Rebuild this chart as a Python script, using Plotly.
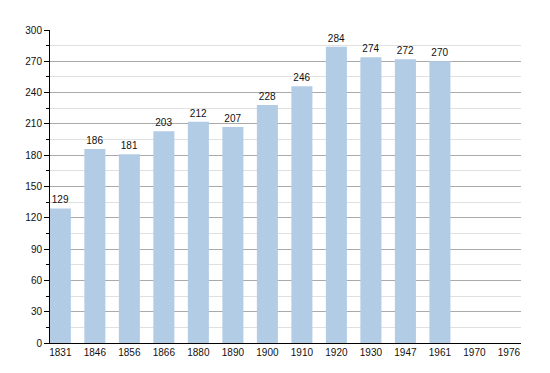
import plotly.graph_objects as go

years = ["1831", "1846", "1856", "1866", "1880", "1890", "1900", "1910", "1920", "1930", "1947", "1961", "1970", "1976"]
population = [129, 186, 181, 203, 212, 207, 228, 246, 284, 274, 272, 270, None, None]
bar_labels = [str(v) if v is not None else "" for v in population]
y_ticks = list(range(0, 301, 30))

fig = go.Figure()
fig.add_trace(go.Bar(
    x=years, y=population, text=bar_labels, textposition="outside",
    textfont=dict(family="Liberation Sans, Arial", size=10, color="#111"),
    marker=dict(color="#b3cce6", line=dict(width=0)),
    width=0.61, cliponaxis=False,
))
fig.update_layout(
    width=550, height=373,
    margin=dict(l=42, r=37, t=22, b=38),
    plot_bgcolor="white", paper_bgcolor="white",
    showlegend=False,
    font=dict(family="Liberation Sans, Arial", size=10, color="#111"),
    xaxis=dict(
        type="category", range=[-0.3, 13.35],
        showline=True, linecolor="black", linewidth=1,
        showgrid=False, ticks="", tickfont=dict(size=10),
    ),
    yaxis=dict(
        range=[0, 300], tickvals=y_ticks,
        showline=True, linecolor="black", linewidth=1,
        showgrid=True, gridcolor="#aaaaaa", gridwidth=1,
        ticks="outside", ticklen=5, tickcolor="black",
        minor=dict(dtick=15, showgrid=True, gridcolor="#e0e0e0", ticks="outside", ticklen=3, tickcolor="black"),
        zeroline=False, tickfont=dict(size=10),
    ),
)
fig.write_html("out.html")
